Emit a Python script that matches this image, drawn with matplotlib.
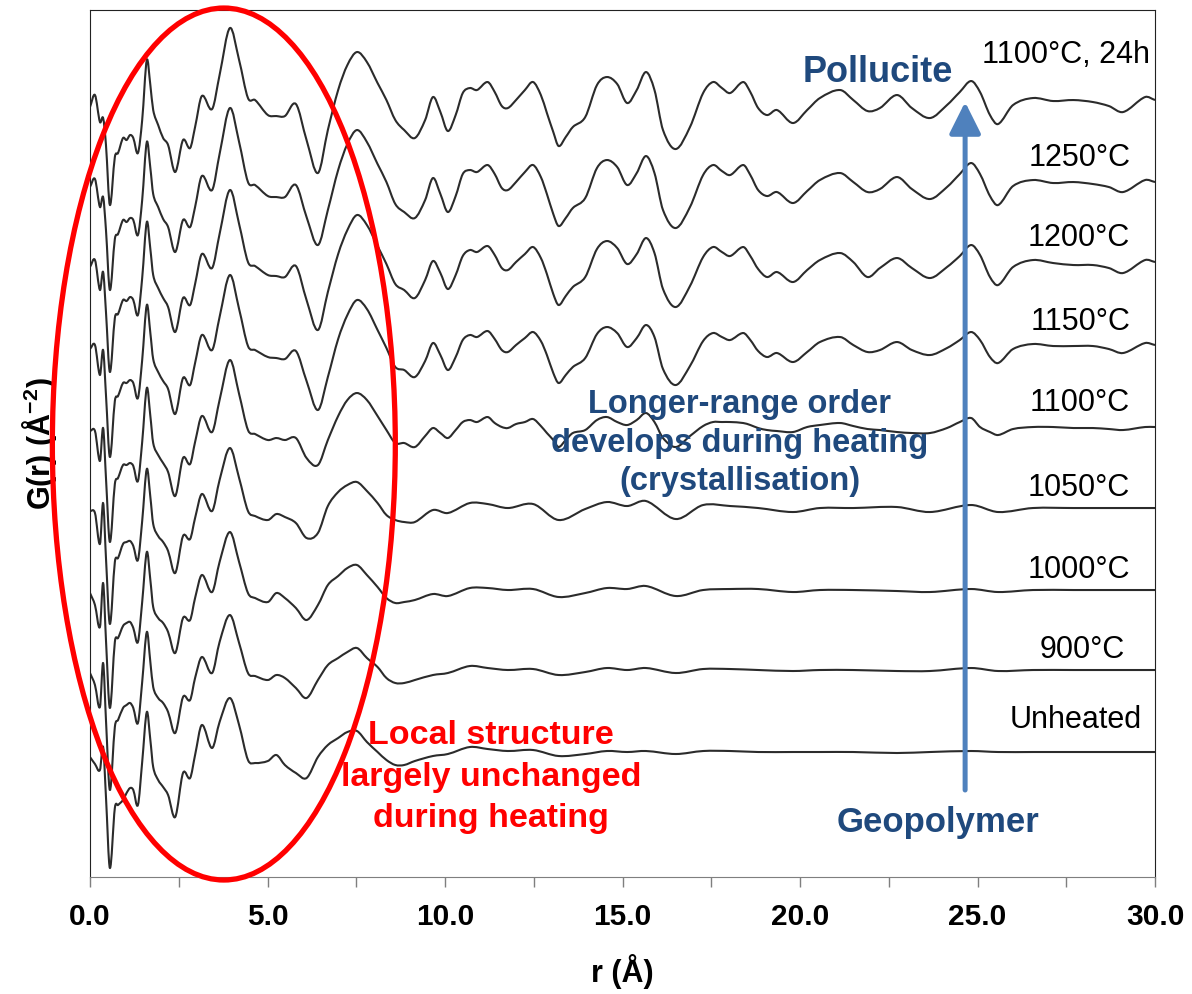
import numpy as np
import matplotlib
matplotlib.use("Agg")
import matplotlib.pyplot as plt
import matplotlib.patches as mpatches
from matplotlib.path import Path

plt.rcParams['font.family'] = ['Liberation Sans', 'DejaVu Sans']
plt.rcParams['mathtext.fontset'] = 'custom'
plt.rcParams['mathtext.rm'] = 'Liberation Sans'
plt.rcParams['mathtext.bf'] = 'Liberation Sans:bold'
plt.rcParams['mathtext.default'] = 'bf'

# r knots (Angstrom) for the short-range part, shared by all samples
r_local = [0.0, 0.14, 0.28, 0.37, 0.45,
           0.56, 0.7, 0.79, 0.93, 1.03,
           1.13, 1.22, 1.35, 1.47, 1.6,
           1.7, 1.78, 1.92, 2.06, 2.2,
           2.4, 2.62, 2.82, 2.96, 3.15,
           3.44, 3.65, 3.94, 4.2, 4.45,
           4.65, 5.01, 5.25, 5.49, 5.8,
           6.1, 6.42, 6.7, 6.99, 7.25,
           7.52, 7.8, 8.1, 8.35, 8.6]

# r knots for the long-range part: crystalline and amorphous samples
r_cryst = [8.85, 9.15, 9.44, 9.66, 9.87,
           10.08, 10.3, 10.5, 10.7, 10.9,
           11.2, 11.4, 11.6, 11.77, 12.0,
           12.25, 12.48, 12.7, 12.87, 13.05,
           13.2, 13.4, 13.6, 13.95, 14.28,
           14.56, 14.85, 15.13, 15.4, 15.66,
           15.9, 16.14, 16.5, 16.9, 17.27,
           17.55, 17.8, 18.03, 18.4, 18.6,
           18.82, 19.07, 19.35, 19.8, 20.2,
           20.56, 21.13, 21.5, 21.9, 22.25,
           22.73, 23.15, 23.66, 24.14, 24.5,
           24.82, 25.07, 25.35, 25.58, 26.0,
           26.56, 27.13, 27.7, 28.25, 28.7,
           29.1, 29.72, 30.0]
r_amor = [8.85, 9.15, 9.66, 10.08, 10.7,
          11.2, 11.77, 12.48, 13.2, 13.95,
          14.56, 15.13, 15.66, 16.5, 17.27,
          18.03, 18.82, 19.8, 20.56, 21.5,
          22.73, 23.66, 24.82, 25.58, 26.56,
          27.7, 28.7, 29.72, 30.0]

# G(r) short range, arbitrary units
g_un_s = [-5, -12, -18, 5, -45, -116, -56, -53, -48, -41, -36, -38, -53, -10, 40,
          12, -15, -28, -35, -43, -65, -21, -26, -3, 27, 4, 30, 54, 27, -8,
          -11, -9, -3, -13, -21, -26, -5, 7, 14, 20, 21, 10, 0, -8, -13]
g_900_s = [-3, -15, -37, 7, -50, -120, -57, -50, -38, -35, -33, -38, -53, -12, 38,
           8, -17, -28, -33, -42, -63, -27, -30, -8, 13, -3, 28, 55, 27, -3,
           -6, -10, -5, -8, -18, -28, -10, 5, 12, 18, 22, 12, 3, -8, -13]
g_1000_s = [-3, -15, -37, 7, -50, -118, -52, -48, -36, -33, -32, -38, -52, -12, 38,
            10, -17, -28, -33, -42, -63, -28, -30, -8, 15, -2, 28, 58, 28, -3,
            -8, -12, -3, -8, -18, -30, -15, 5, 14, 22, 25, 15, 3, -8, -13]
g_1050_s = [-3, -5, -36, 5, -50, -116, -54, -50, -36, -34, -33, -38, -52, -13, 39,
            11, -16, -28, -34, -43, -65, -28, -31, -10, 14, -3, 28, 60, 30, -3,
            -8, -12, -6, -9, -15, -30, -25, 2, 16, 23, 26, 17, 5, -7, -12]
g_1100_s = [-3, -3, -33, 0, -50, -114, -56, -50, -37, -37, -35, -38, -53, -14, 40,
            12, -15, -27, -35, -44, -68, -30, -36, -14, 12, -4, 28, 68, 34, -2,
            -6, -12, -10, -12, -10, -30, -37, -12, 12, 28, 35, 28, 12, -2, -15]
g_1150_s = [-4, 0, -30, -5, -50, -112, -56, -51, -38, -38, -35, -38, -53, -15, 40,
            12, -14, -27, -36, -44, -69, -33, -40, -18, 10, -5, 28, 70, 36, -1,
            -5, -12, -13, -14, -6, -36, -65, -32, 6, 30, 45, 36, 15, -3, -22]
g_1200_s = [-5, 2, -28, -10, -50, -110, -56, -52, -38, -39, -35, -38, -53, -16, 40,
            13, -13, -26, -36, -45, -70, -36, -43, -22, 8, -6, 28, 72, 38, 0,
            -4, -13, -14, -15, -4, -38, -68, -30, 8, 32, 47, 37, 16, -2, -22]
g_1250_s = [-5, 3, -25, -15, -48, -108, -57, -52, -38, -40, -36, -38, -53, -18, 40,
            14, -12, -25, -37, -45, -70, -38, -45, -25, 6, -8, 28, 74, 40, 0,
            -3, -14, -15, -15, -3, -35, -63, -28, 12, 38, 52, 40, 18, 0, -22]
g_24h_s = [-7, 5, -22, -18, -45, -105, -57, -53, -38, -40, -35, -38, -53, -20, 40,
           15, -10, -25, -38, -45, -72, -40, -48, -27, 4, -9, 25, 72, 40, 2,
           0, -15, -16, -16, -4, -40, -73, -30, 10, 35, 48, 38, 17, 0, -20]

# G(r) long range
g_un_l = [-13, -9, -4, -2, 5, 3, 1, 2, -4, -2, 1, 0, 1, -2, 1,
          1, 0, 0, 0, 0, -1, 0, 1, 0, 0, 0, 0, 0, 0]
g_900_l = [-13, -10, -5, -3, 4, 2, 0, 1, -5, -2, 2, 0, 2, -3, 1,
           1, 0, -1, 0, 0, -1, -1, 2, -1, 0, 0, 0, 0, 0]
g_1000_l = [-12, -10, -4, -6, 2, 2, 0, 1, -7, -3, 2, 1, 4, -6, 0,
            1, 1, -2, 0, 0, -1, -2, 1, -2, 0, 0, 0, 0, 0]
g_1050_l = [-14, -14, -2, -5, 5, 4, 0, 4, -12, -1, 6, 2, 7, -11, 3,
            2, 0, -4, 0, 0, 1, -4, 3, -4, 0, 0, 0, 0, 0]
g_1100_l = [-15, -19, -8, 0, -5, -10, -2, 6, 8, 6, 11, 5, 1, 0, 4,
            6, 9, 2, -5, -12, -19, -12, -5, -2, 8, 11, 6, 3, 8, 15,
            6, -10, -19, -8, 2, 6, 6, 6, 5, 3, 0, -2, -3, -4, 1,
            3, 5, 2, -1, -2, -4, -5, -5, 0, 6, 10, 1, -4, -7, -1,
            1, 1, 0, 0, -1, -2, 1, 1]
g_1150_l = [-25, -32, -16, 2, -10, -25, -12, 5, 10, 8, 14, 6, -5, -7, 0,
            7, 13, 4, -10, -28, -38, -30, -22, -13, 11, 18, 12, -2, 7, 20,
            8, -24, -40, -21, 4, 12, 8, 5, 12, 5, -6, -12, -8, -17, -7,
            3, 8, 0, -7, -5, 3, -5, -10, -3, 5, 13, 5, -12, -18, -4,
            1, -1, -1, -1, -4, -8, 2, 0]
g_1200_l = [-28, -36, -18, 1, -11, -27, -13, 6, 12, 10, 16, 7, -6, -8, 0,
            8, 15, 4, -12, -32, -43, -34, -25, -15, 13, 21, 14, -2, 8, 24,
            9, -27, -45, -24, 5, 15, 10, 6, 15, 6, -7, -15, -10, -20, -8,
            2, 9, 0, -15, -6, 4, -6, -16, -5, 6, 17, 7, -15, -23, -5,
            2, -1, -3, -3, -6, -11, 2, 0]
g_1250_l = [-30, -36, -18, 4, -12, -30, -14, 8, 12, 10, 17, 8, -6, -8, 0,
            10, 17, 5, -12, -32, -44, -36, -26, -16, 14, 22, 15, -3, 9, 26,
            9, -28, -46, -25, 7, 17, 11, 7, 17, 7, -8, -14, -10, -21, -9,
            2, 9, 0, -10, -7, 5, -7, -17, -5, 8, 19, 8, -14, -23, -4,
            2, -1, 0, -2, -5, -10, 2, 0]
g_24h_l = [-30, -38, -20, 3, -12, -31, -15, 7, 12, 10, 18, 8, -6, -8, 0,
           10, 18, 5, -13, -32, -46, -37, -27, -17, 15, 23, 16, -3, 10, 28,
           10, -30, -49, -27, 7, 18, 12, 7, 18, 8, -8, -15, -10, -23, -10,
           2, 10, 0, -11, -8, 5, -8, -18, -5, 8, 19, 8, -15, -24, -5,
           2, -1, 0, -2, -6, -12, 3, 0]

labels = ["Unheated", "900°C", "1000°C", "1050°C", "1100°C",
          "1150°C", "1200°C", "1250°C", "1100°C, 24h"]
offsets = [125, 207, 287, 369, 449, 532, 615, 695, 777]

short_parts = [g_un_s, g_900_s, g_1000_s, g_1050_s, g_1100_s,
               g_1150_s, g_1200_s, g_1250_s, g_24h_s]
long_parts = [g_un_l, g_900_l, g_1000_l, g_1050_l, g_1100_l,
              g_1150_l, g_1200_l, g_1250_l, g_24h_l]
long_r = [r_amor] * 4 + [r_cryst] * 5

# label placement (r of right edge, height above the trace)
label_x = [29.63, 29.15, 29.3, 29.3, 29.3, 29.3, 29.3, 29.3, 29.86]
label_dy = [32, 20, 20, 20, 25, 23, 24, 24, 45]


def smooth_path(x, y):
    # cubic Bezier segments through the read points (Hermite tangents)
    x = np.asarray(x, float)
    y = np.asarray(y, float)
    m = np.empty_like(y)
    m[1:-1] = (y[2:] - y[:-2]) / (x[2:] - x[:-2])
    m[0] = (y[1] - y[0]) / (x[1] - x[0])
    m[-1] = (y[-1] - y[-2]) / (x[-1] - x[-2])
    verts = [(x[0], y[0])]
    codes = [Path.MOVETO]
    for i in range(len(x) - 1):
        h = (x[i + 1] - x[i]) / 3.0
        verts += [(x[i] + h, y[i] + m[i] * h),
                  (x[i + 1] - h, y[i + 1] - m[i + 1] * h),
                  (x[i + 1], y[i + 1])]
        codes += [Path.CURVE4] * 3
    return Path(verts, codes)


fig = plt.figure(figsize=(11.92, 9.94), dpi=100)
ax = fig.add_axes([0.0755, 0.1177, 0.8935, 0.8722])

for i in range(len(labels)):
    r = r_local + long_r[i]
    g = np.array(short_parts[i] + long_parts[i]) + offsets[i]
    ax.add_patch(mpatches.PathPatch(smooth_path(r, g), fill=False,
                                    ec='#2b2b2b', lw=1.5, joinstyle='round'))
    ax.text(label_x[i], offsets[i] + label_dy[i], labels[i], ha='right',
            va='center', fontsize=22, color='black')

ax.set_xlim(0, 30)
ax.set_ylim(0, 867)

# red ellipse round the short-range region
ell = mpatches.Ellipse((3.77, 433), 9.66, 872, fill=False, ec='#ff0000',
                       lw=3.8, clip_on=False, zorder=5)
ax.add_patch(ell)

ax.annotate('', xy=(24.65, 775), xytext=(24.65, 87),
            arrowprops=dict(arrowstyle='-|>', color='#4f81bd', lw=3.6,
                            mutation_scale=48, shrinkA=0, shrinkB=0),
            zorder=6)

blue = '#1f497d'
ax.text(22.2, 805, 'Pollucite', color=blue, fontsize=26, fontweight='bold',
        ha='center', va='center')
ax.text(23.9, 55, 'Geopolymer', color=blue, fontsize=25, fontweight='bold',
        ha='center', va='center')
ax.text(18.3, 434, 'Longer-range order\ndevelops during heating\n(crystallisation)',
        color=blue, fontsize=23.5, fontweight='bold', ha='center', va='center',
        linespacing=1.3)
ax.text(11.3, 100, 'Local structure\nlargely unchanged\nduring heating',
        color='#ff0000', fontsize=24.5, fontweight='bold', ha='center',
        va='center', linespacing=1.42)

ax.set_xticks(np.arange(0, 30.1, 5))
ax.set_xticks(np.arange(2.5, 30, 5), minor=True)
ax.set_xticklabels([f'{v:.1f}' for v in np.arange(0, 30.1, 5)],
                   fontsize=21.5, fontweight='bold')
ax.tick_params(axis='x', which='both', direction='out', length=7, width=1,
               color='#7f7f7f', pad=12)
ax.set_yticks([])
for side in ['left', 'top', 'right']:
    ax.spines[side].set_color('#222222')
ax.spines['bottom'].set_color('#7f7f7f')

ax.set_xlabel('r (Å)', fontsize=22, fontweight='bold', labelpad=16)
ax.set_ylabel('G(r) (Å$^{-2}$)', fontsize=22, fontweight='bold', labelpad=22)

plt.savefig('out.png', dpi=100)
plt.close()
